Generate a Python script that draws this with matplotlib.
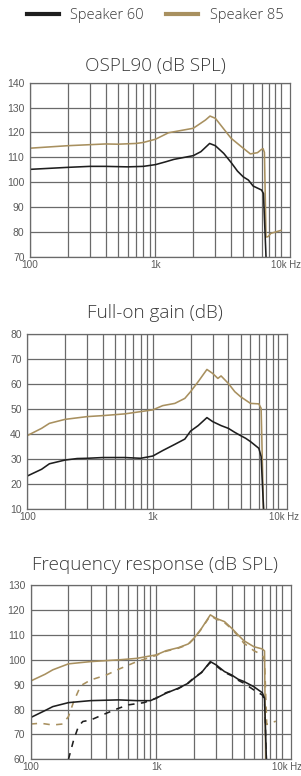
import matplotlib
matplotlib.use("Agg")
import matplotlib.pyplot as plt
from matplotlib.lines import Line2D
from matplotlib.ticker import FixedLocator, NullFormatter
import numpy as np

# ---------------- data ----------------
series_names = ["Speaker 60", "Speaker 85"]
titles = ["OSPL90 (dB SPL)", "Full-on gain (dB)", "Frequency response (dB SPL)"]
x_tick_labels = ["100", "1k", "10k Hz"]

# OSPL90
ospl_s60_f = [100, 200, 300, 400, 600, 800, 1000, 1200, 1400, 2000, 2300, 2700, 3000, 3500, 4000, 4500, 5000, 5500, 6000, 7000, 7250, 7600, 7800]
ospl_s60_v = [105.2, 106.0, 106.4, 106.4, 106.2, 106.4, 107.1, 108.2, 109.2, 110.7, 112.3, 115.6, 114.7, 111.6, 108.0, 104.5, 102.2, 100.9, 98.5, 96.9, 95.5, 70.0, 60.0]
ospl_s85_f = [100, 200, 400, 500, 700, 800, 1000, 1270, 2000, 2500, 2720, 3000, 4000, 5000, 5700, 6500, 7000, 7200, 7380, 7600, 7900, 8300, 9000, 10000]
ospl_s85_v = [113.7, 114.7, 115.4, 115.3, 115.6, 116.0, 117.3, 119.9, 121.7, 125.0, 126.6, 125.7, 117.7, 113.7, 111.4, 111.9, 113.2, 113.5, 112.0, 78.0, 78.2, 79.5, 80.0, 80.7]

# Full-on gain
gain_s60_f = [100, 130, 150, 200, 250, 300, 400, 600, 800, 1000, 1200, 1500, 1800, 2000, 2300, 2700, 3000, 3500, 4000, 4500, 5000, 5500, 6000, 7000, 7300, 7600, 7700]
gain_s60_v = [23.1, 25.8, 28.0, 29.5, 30.1, 30.2, 30.5, 30.5, 30.2, 31.1, 33.3, 35.8, 37.9, 41.1, 43.3, 46.5, 44.9, 43.3, 42.2, 40.6, 39.3, 38.2, 36.9, 34.2, 30.9, 12.0, 5.0]
gain_s85_f = [100, 130, 150, 200, 300, 400, 600, 800, 1000, 1200, 1500, 1800, 2000, 2300, 2700, 3000, 3300, 3500, 4000, 4500, 5000, 6000, 7000, 7300, 7600, 7700]
gain_s85_v = [39.3, 42.2, 44.2, 45.8, 46.9, 47.3, 48.0, 48.9, 49.6, 51.3, 52.2, 54.2, 56.9, 60.9, 65.8, 64.2, 62.2, 63.2, 60.2, 56.9, 54.9, 52.2, 52.0, 50.2, 12.0, 5.0]

# Frequency response (solid = measured, dashed = second curve)
fr_s60_f = [100, 130, 150, 200, 300, 500, 700, 900, 1000, 1200, 1500, 1800, 2000, 2300, 2700, 3000, 3500, 4000, 4500, 5000, 6000, 7000, 7300, 7550, 7650]
fr_s60_v = [76.8, 79.6, 81.2, 82.8, 83.6, 83.9, 83.6, 83.6, 84.6, 86.6, 88.6, 90.6, 92.6, 94.9, 99.3, 98.0, 95.3, 93.9, 92.2, 91.3, 89.2, 86.8, 84.6, 60.0, 55.0]
fr_s60d_f = [200, 220, 240, 260, 300, 400, 500, 600, 800, 1000, 1200, 1500, 1800, 2000, 2300, 2700, 3000, 3500, 4000, 4500, 5000, 6000, 7000, 7300, 7550, 7650]
fr_s60d_v = [60.0, 67.8, 73.2, 75.2, 75.8, 78.5, 80.5, 81.9, 82.8, 84.6, 86.8, 88.4, 90.8, 92.8, 95.0, 99.0, 97.6, 95.0, 93.6, 91.8, 90.6, 87.9, 85.9, 84.0, 60.0, 55.0]
fr_s85_f = [100, 130, 150, 200, 250, 300, 400, 500, 700, 900, 1000, 1200, 1500, 1800, 2000, 2300, 2700, 3000, 3500, 4000, 4500, 5000, 6000, 7000, 7300, 7450, 7550]
fr_s85_v = [91.5, 94.2, 96.0, 98.4, 98.9, 99.3, 99.7, 100.0, 100.6, 101.6, 102.0, 103.7, 104.9, 106.4, 108.7, 112.7, 118.1, 116.7, 115.4, 112.7, 110.0, 107.7, 105.3, 104.4, 103.6, 60.0, 55.0]
fr_s85d_f = [100, 120, 150, 180, 200, 220, 250, 300, 400, 500, 700, 800, 1000, 1200, 1500, 1800, 2000, 2300, 2700, 3000, 3500, 4000, 4500, 5000, 6000, 7000, 7300, 7600, 8000, 9000]
fr_s85d_v = [74.2, 74.5, 73.8, 74.2, 77.2, 83.2, 89.6, 91.9, 93.9, 96.2, 99.3, 100.2, 101.8, 103.5, 104.7, 106.2, 108.5, 112.5, 117.8, 116.4, 115.0, 112.4, 109.6, 106.7, 103.7, 102.0, 100.0, 74.0, 74.6, 75.3]

# ---------------- style ----------------
BLACK = "#1e1e1e"
GOLD = "#a8905f"
GRID = "#6a6a6a"
TXT = "#3a3a3a"
TICK = "#5a5a5a"
TITLE_FONT = ["Open Sans", "DejaVu Sans"]
TICK_FONT = ["Liberation Sans", "DejaVu Sans"]

W, H = 301, 776
fig = plt.figure(figsize=(W / 100, H / 100), dpi=100)

XMAX = 11800

def make_axes(left, right, top, bottom):
    return fig.add_axes([left / W, 1 - bottom / H, (right - left) / W, (bottom - top) / H])

def style_axes(ax, ylo, yhi):
    ax.set_xscale("log")
    ax.set_xlim(100, XMAX)
    ax.set_ylim(ylo, yhi)
    majors = [100, 1000]
    minors = [m * d for d in (100, 1000) for m in range(2, 10)] + [10000]
    ax.xaxis.set_major_locator(FixedLocator(majors))
    ax.xaxis.set_minor_locator(FixedLocator(minors))
    ax.xaxis.set_minor_formatter(NullFormatter())
    ax.set_xticklabels(x_tick_labels[:2], fontfamily=TICK_FONT, fontsize=7.2, color=TICK)
    yt = np.arange(ylo, yhi + 1, 10)
    ax.set_yticks(yt)
    ax.set_yticklabels([str(int(v)) for v in yt], fontfamily=TICK_FONT, fontsize=7.5, color=TICK)
    ax.tick_params(axis="both", which="both", length=0)
    ax.tick_params(axis="y", pad=4)
    ax.tick_params(axis="x", pad=2.2)
    ax.grid(True, which="both", color=GRID, linewidth=0.9)
    for s in ax.spines.values():
        s.set_color(GRID)
        s.set_linewidth(0.9)
    ax.set_axisbelow(True)
    # "10k Hz" label: "10k" roughly centred on the 10k grid line
    ax.annotate(x_tick_labels[2], xy=(10000, 0), xycoords=("data", "axes fraction"),
                xytext=(-7.0, -2.2), textcoords="offset points", ha="left", va="top",
                fontfamily=TICK_FONT, fontsize=6.9, color=TICK, annotation_clip=False)

LW = 1.15

ax1 = make_axes(30.0, 290.0, 82.7, 257.0)
style_axes(ax1, 70, 140)
ax1.plot(ospl_s85_f, ospl_s85_v, color=GOLD, lw=LW)
ax1.plot(ospl_s60_f, ospl_s60_v, color=BLACK, lw=LW)

ax2 = make_axes(27.3, 287.3, 334.0, 508.7)
style_axes(ax2, 10, 80)
ax2.plot(gain_s85_f, gain_s85_v, color=GOLD, lw=LW)
ax2.plot(gain_s60_f, gain_s60_v, color=BLACK, lw=LW)

ax3 = make_axes(30.7, 290.7, 585.3, 759.3)
style_axes(ax3, 60, 130)
ax3.plot(fr_s85d_f, fr_s85d_v, color=GOLD, lw=LW, ls=(0, (4, 4)))
ax3.plot(fr_s60d_f, fr_s60d_v, color=BLACK, lw=LW, ls=(0, (4, 4)))
ax3.plot(fr_s85_f, fr_s85_v, color=GOLD, lw=LW)
ax3.plot(fr_s60_f, fr_s60_v, color=BLACK, lw=LW)

# titles
title_y = [66.5, 313.0, 565.0]
for t, y in zip(titles, title_y):
    fig.text(155 / W, 1 - y / H, t, ha="center", va="center",
             fontfamily=TITLE_FONT, fontsize=13.6, fontweight="light", color=TXT)

# legend
handles = [Line2D([], [], color=BLACK, lw=3), Line2D([], [], color=GOLD, lw=3)]
fig.legend(handles, series_names, loc="center", bbox_to_anchor=(155 / W, 1 - 15.5 / H),
           ncol=2, frameon=False, handlelength=2.2, handletextpad=0.8,
           columnspacing=1.5, prop={"family": TITLE_FONT, "size": 10.5, "weight": "light"},
           labelcolor=TXT, borderpad=0, borderaxespad=0)

fig.savefig("out.png", dpi=100)
